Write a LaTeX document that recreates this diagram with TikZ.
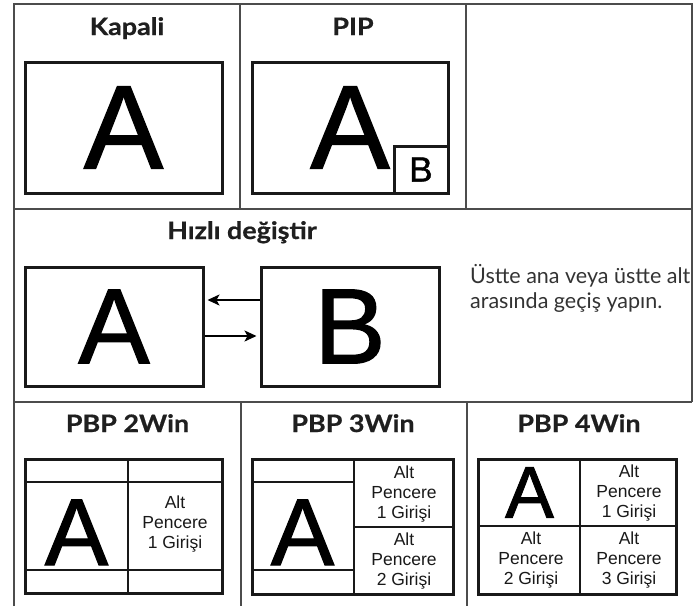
\documentclass[tikz,border=0pt]{standalone}
\usepackage{fontspec}
\setmainfont{Liberation Sans}
\newfontfamily\headfont[FakeStretch=1.12, BoldFeatures={FakeBold=0.7}]{Lato}
\newfontfamily\notefont{Lato}
\newfontfamily\letterfont[FakeBold=1.2]{Liberation Sans}
\usetikzlibrary{arrows.meta,positioning,calc}

\tikzset{
  gridline/.style={draw=black!70, line width=1.2pt},
  screen/.style={draw=black!90, line width=3pt, fill=white, inner sep=0pt},
  divider/.style={draw=black!90, line width=2.4pt},
  paneltitle/.style={font=\headfont\bfseries\fontsize{24}{28}\selectfont, text=black!88, anchor=base},
  cellnote/.style={font=\fontsize{17.5}{20}\selectfont, align=center, text=black!90, inner sep=0pt},
  switcharrow/.style={-{Stealth[length=12pt,width=11pt,inset=3pt]}, line width=1.6pt}
}

\begin{document}
\begin{tikzpicture}[x=1pt,y=-1pt]
    \useasboundingbox (0,0) rectangle (697,606);
    % table frame
    \draw[gridline] (14,606) -- (14,4) -- (692,4) -- (692,402);
    \draw[gridline] (14,209) -- (692,209);
    \draw[gridline] (14,402) -- (692,402);
    \draw[gridline] (240,4) -- (240,209);
    \draw[gridline] (466,4) -- (466,209);
    \draw[gridline] (241,402) -- (241,606);
    \draw[gridline] (467,402) -- (467,606);

    % Kapali
    \node[paneltitle] (tOff) at (127,35) {Kapali};
    \node[screen, minimum width=197, minimum height=131, font=\letterfont\fontsize{119}{119}\selectfont] (offA) at (123.5,127.5) {A};

    % PIP
    \node[paneltitle] (tPip) at (353,35) {PIP};
    \node[screen, minimum width=196, minimum height=131, font=\letterfont\fontsize{119}{119}\selectfont] (pipA) at (350,127.5) {A};
    \node[screen, minimum width=54, minimum height=47, anchor=south east, font=\letterfont\fontsize{35}{35}\selectfont] (pipB) at (pipA.south east) {B};

    % Hizli degistir
    \node[paneltitle] (tSwap) at (242,239) {Hızlı değiştir};
    \node[screen, minimum width=178, minimum height=119, font=\letterfont\fontsize{107}{107}\selectfont] (swA) at (114,326.5) {A};
    \node[screen, minimum width=178, minimum height=119, font=\letterfont\fontsize{107}{107}\selectfont] (swB) at (350,326.5) {B};
    \draw[switcharrow] ([yshift=26.5pt]swB.west) -- ([yshift=26.5pt,xshift=3pt]swA.east);
    \draw[switcharrow] ([yshift=-9.5pt]swA.east) -- ([yshift=-9.5pt,xshift=-3pt]swB.west);
    \node[font=\notefont\fontsize{21.5}{25}\selectfont, text=black!80, anchor=base west, inner sep=0pt] (note1) at (470,283) {Üstte ana veya üstte alt};
    \node[font=\notefont\fontsize{21.5}{25}\selectfont, text=black!80, anchor=base west, inner sep=0pt] (note2) at ([yshift=-25pt]note1.base west) {arasında geçiş yapın.};

    % PBP 2Win
    \node[paneltitle] (tTwo) at (127.5,432) {PBP 2Win};
    \node[screen, minimum width=197, minimum height=134] (two) at (123.5,526) {};
    \draw[divider] (25,482) -- (222,482);
    \draw[divider] (25,570) -- (222,570);
    \draw[divider] (128,459) -- (128,593);
    \node[anchor=base, inner sep=0pt, font=\letterfont\fontsize{95}{95}\selectfont] (twoA) at (76.5,565) {A};
    \node[cellnote] (twoS1) at (175,524) {Alt\\Pencere\\1 Girişi};

    % PBP 3Win
    \node[paneltitle] (tThree) at (353,432) {PBP 3Win};
    \node[screen, minimum width=201, minimum height=135] (three) at (352.5,526.5) {};
    \draw[divider] (252,482) -- (354,482);
    \draw[divider] (252,570) -- (354,570);
    \draw[divider] (354,527) -- (453,527);
    \draw[divider] (354,459) -- (354,594);
    \node[anchor=base, inner sep=0pt, font=\letterfont\fontsize{95}{95}\selectfont] (threeA) at (302.5,565) {A};
    \node[cellnote] (threeS1) at (404,494) {Alt\\Pencere\\1 Girişi};
    \node[cellnote] (threeS2) at (404,561) {Alt\\Pencere\\2 Girişi};

    % PBP 4Win
    \node[paneltitle] (tFour) at (579,432) {PBP 4Win};
    \node[screen, minimum width=198, minimum height=135] (four) at (577,526.5) {};
    \draw[divider] (478,526) -- (676,526);
    \draw[divider] (580,459) -- (580,594);
    \node[inner sep=0pt, font=\letterfont\fontsize{73}{73}\selectfont] (fourA) at (529.5,492.5) {A};
    \node[cellnote] (fourS1) at (629,493) {Alt\\Pencere\\1 Girişi};
    \node[cellnote] (fourS2) at (531,560) {Alt\\Pencere\\2 Girişi};
    \node[cellnote] (fourS3) at (629,560) {Alt\\Pencere\\3 Girişi};
\end{tikzpicture}
\end{document}
